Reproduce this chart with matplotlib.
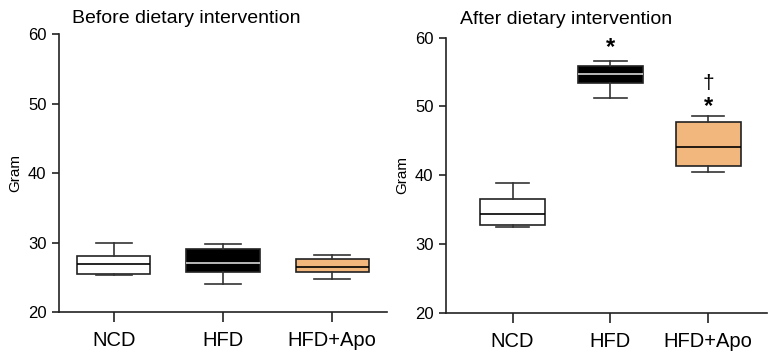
import matplotlib
matplotlib.use("Agg")
import matplotlib.pyplot as plt

plt.rcParams['font.family'] = ['Liberation Sans', 'DejaVu Sans']

groups = ['NCD', 'HFD', 'HFD+Apo']
colors = ['white', 'black', '#F2B77C']
median_colors = ['black', '#d8d8d8', 'black']

# whislo, q1, med, q3, whishi
before = [
    [25.3, 25.5, 26.9, 28.1, 30.0],
    [24.1, 25.7, 27.1, 29.1, 29.8],
    [24.8, 25.8, 26.5, 27.6, 28.2],
]
after = [
    [32.4, 32.75, 34.3, 36.5, 38.8],
    [51.2, 53.45, 54.7, 55.9, 56.65],
    [40.45, 41.4, 44.05, 47.8, 48.6],
]

fig = plt.figure(figsize=(7.69, 3.54), dpi=100)
ax1 = fig.add_axes([0.0767, 0.1186, 0.4265, 0.785])
ax2 = fig.add_axes([0.58, 0.1167, 0.4174, 0.777])


def draw(ax, data, title, xlim, tpad, tx):
    stats = []
    for g, d in zip(groups, data):
        stats.append(dict(label=g, whislo=d[0], q1=d[1], med=d[2], q3=d[3], whishi=d[4], fliers=[]))
    bp = ax.bxp(stats, positions=range(len(groups)), widths=0.67, patch_artist=True,
                showfliers=False,
                boxprops=dict(linewidth=1.2, edgecolor='#222222'),
                whiskerprops=dict(linewidth=1.2, color='#333333'),
                capprops=dict(linewidth=1.2, color='#333333'),
                medianprops=dict(linewidth=1.2))
    for patch, c in zip(bp['boxes'], colors):
        patch.set_facecolor(c)
    for caps in bp['caps']:
        x = caps.get_xdata()
        mid = (x[0] + x[1]) / 2
        caps.set_xdata([mid - 0.165, mid + 0.165])
    for m, c in zip(bp['medians'], median_colors):
        m.set_color(c)
    ax.set_ylim(20, 60)
    ax.set_xlim(*xlim)
    ax.set_yticks([20, 30, 40, 50, 60])
    ax.spines['top'].set_visible(False)
    ax.spines['right'].set_visible(False)
    for s in ['left', 'bottom']:
        ax.spines[s].set_linewidth(1.2)
        ax.spines[s].set_color('#222222')
    ax.tick_params(axis='y', labelsize=12, length=5, width=1.2, color='#222222', pad=4)
    ax.tick_params(axis='x', labelsize=14.5, length=7, width=1.2, color='#222222', pad=7)
    ax.set_ylabel('Gram', fontsize=11, labelpad=4)
    ax.set_title(title, fontsize=14, loc='left', x=tx, pad=tpad)


draw(ax1, before, 'Before dietary intervention', (-0.5, 2.5), 8, 0.04)
draw(ax2, after, 'After dietary intervention', (-0.68, 2.6), 10, 0.044)

ax2.text(1, 58.5, '*', fontsize=17, fontweight='bold', ha='center', va='center')
ax2.text(2, 50.0, '*', fontsize=17, fontweight='bold', ha='center', va='center')
ax2.text(2, 53.3, '\u2020', fontsize=15, ha='center', va='center')

fig.savefig('out.png', dpi=100)
